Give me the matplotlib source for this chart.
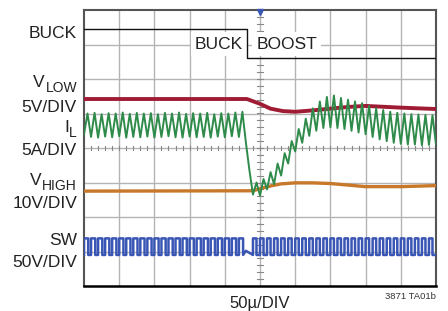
import numpy as np
import matplotlib
matplotlib.use("Agg")
import matplotlib.pyplot as plt

plt.rcParams['font.family'] = ['Liberation Sans', 'DejaVu Sans']

# screen is 10 x 8 divisions, values below are in divisions
# BUCK / BOOST mode trace
mode_x = [0.0, 4.63, 4.63, 10.0]
mode_y = [7.45, 7.45, 6.61, 6.61]

# VLOW (5V/DIV)
vlow_x = [0.0, 4.63, 5.0, 5.3, 5.65, 6.0, 6.5, 7.0, 7.5, 8.0, 9.0, 10.0]
vlow_y = [5.42, 5.42, 5.28, 5.14, 5.07, 5.05, 5.09, 5.14, 5.19, 5.22, 5.17, 5.13]

# VHIGH (10V/DIV)
vhigh_x = [0.0, 4.8, 5.0, 5.3, 5.6, 6.0, 6.5, 7.0, 8.0, 9.0, 10.0]
vhigh_y = [2.75, 2.76, 2.82, 2.90, 2.96, 2.99, 2.99, 2.97, 2.88, 2.88, 2.91]

# IL (5A/DIV), one vertex every 0.1 div
il_y = [4.40, 5.00, 4.32, 5.02, 4.30, 4.98, 4.33, 5.01, 4.31, 5.00,
        4.34, 5.03, 4.30, 4.99, 4.32, 5.02, 4.31, 5.00, 4.33, 5.01,
        4.30, 4.98, 4.32, 5.02, 4.34, 5.00, 4.31, 5.03, 4.30, 4.99,
        4.33, 5.01, 4.31, 5.00, 4.32, 5.02, 4.30, 4.98, 4.33, 5.01,
        4.31, 5.00, 4.34, 5.03, 4.32, 5.05, 4.15, 3.35, 2.65, 3.00,
        2.62, 3.10, 2.80, 3.30, 2.95, 3.55, 3.20, 3.85, 3.55, 4.20,
        3.90, 4.55, 4.15, 4.85, 4.35, 5.15, 4.50, 5.35, 4.58, 5.48,
        4.60, 5.52, 4.58, 5.45, 4.55, 5.40, 4.50, 5.35, 4.45, 5.30,
        4.40, 5.22, 4.32, 5.15, 4.25, 5.10, 4.20, 5.05, 4.15, 5.02,
        4.12, 5.00, 4.10, 4.98, 4.10, 4.97, 4.08, 4.96, 4.09, 4.95,
        4.10]
il_x = np.arange(len(il_y)) * 0.1

# SW (50V/DIV), duty of each 0.2 div switching cycle
sw_hi = 1.38
sw_lo = 0.90
sw_period = 0.2
sw_duty = [0.6, 0.6, 0.6, 0.6, 0.6, 0.6, 0.6, 0.6, 0.6, 0.6,
           0.6, 0.6, 0.6, 0.6, 0.6, 0.6, 0.6, 0.6, 0.6, 0.6,
           0.6, 0.6, 0.6, 0.0, 0.5, 0.5, 0.5, 0.5, 0.5, 0.5,
           0.5, 0.5, 0.5, 0.5, 0.5, 0.5, 0.5, 0.5, 0.5, 0.5,
           0.5, 0.5, 0.5, 0.5, 0.5, 0.5, 0.5, 0.5, 0.5, 0.5]

# left side channel labels: (main, subscript, baseline px)
ch_main = ['BUCK', 'V', '5V/DIV', 'I', '5A/DIV', 'V', '10V/DIV', 'SW', '50V/DIV']
ch_sub = ['', 'LOW', '', 'L', '', 'HIGH', '', '', '']
ch_base = [38, 87, 112, 132, 155, 185, 208, 245, 267]

sw_x, sw_y = [], []
for i, d in enumerate(sw_duty):
    t0 = i * sw_period
    if d > 0:
        sw_x += [t0, t0, t0 + d * sw_period, t0 + d * sw_period]
        sw_y += [sw_lo, sw_hi, sw_hi, sw_lo]
    else:
        sw_x += [t0]
        sw_y += [sw_lo + 0.12]
sw_x.append(10.0)
sw_y.append(sw_lo)

W, H = 448, 311
fig = plt.figure(figsize=(W / 100, H / 100), dpi=100)
ax = fig.add_axes([84 / W, (H - 286) / H, 352 / W, 276 / H])
ax.set_xlim(0, 10)
ax.set_ylim(0, 8)
ax.set_xticks([])
ax.set_yticks([])

gc = '#b4b4b4'
for gx in range(1, 10):
    ax.axvline(gx, color=gc, lw=1.0, zorder=1)
for gy in range(1, 8):
    ax.axhline(gy, color=gc, lw=1.0, zorder=1)
# center crosshair minor ticks
for t in np.arange(0.2, 10, 0.2):
    ax.plot([t, t], [3.94, 4.06], color='#888888', lw=0.8, zorder=1)
for t in np.arange(0.2, 8, 0.2):
    ax.plot([4.92, 5.08], [t, t], color='#888888', lw=0.8, zorder=1)
ax.plot([5], [7.93], marker='v', color='#3a56b4', ms=4, zorder=5, clip_on=False)

for s in ['top', 'left', 'right']:
    ax.spines[s].set_color('#555555')
    ax.spines[s].set_linewidth(1.5)
ax.spines['bottom'].set_color('#000000')
ax.spines['bottom'].set_linewidth(1.8)

tc = '#222222'
box = dict(fc='white', ec='none', pad=3)
ax.text(4.52, 6.88, 'BUCK', fontsize=12.5, color=tc, ha='right', va='baseline',
        bbox=box, zorder=3)
ax.text(4.9, 6.88, 'BOOST', fontsize=12.5, color=tc, ha='left', va='baseline',
        bbox=box, zorder=3)

ax.plot(mode_x, mode_y, color='#111111', lw=1.0, zorder=4)
ax.plot(vlow_x, vlow_y, color='#a01c34', lw=2.8, zorder=4)
ax.plot(il_x, il_y, color='#2e8b4a', lw=1.4, zorder=5)
ax.plot(vhigh_x, vhigh_y, color='#c8782a', lw=2.4, zorder=4)
ax.plot(sw_x, sw_y, color='#3a56b4', lw=1.8, zorder=4)

renderer = fig.canvas.get_renderer()
for main, sub, yb in zip(ch_main, ch_sub, ch_base):
    xr = 77
    if sub:
        st = fig.text(xr / W, 1 - (yb + 5) / H, sub, fontsize=10, color=tc,
                      ha='right', va='baseline')
        xr = st.get_window_extent(renderer).x0 - 0.5
        fig.text(xr / W, 1 - yb / H, main, fontsize=12.5, color=tc,
                 ha='right', va='baseline')
    else:
        fig.text(xr / W, 1 - yb / H, main, fontsize=12.5, color=tc,
                 ha='right', va='baseline')

fig.text(260 / W, 1 - 308 / H, '50\u00b5/DIV', fontsize=12, color=tc,
         ha='center', va='baseline')
fig.text(436 / W, 1 - 299 / H, '3871 TA01b', fontsize=6.8, color='#333333',
         ha='right', va='baseline')

fig.savefig('out.png', dpi=100)
